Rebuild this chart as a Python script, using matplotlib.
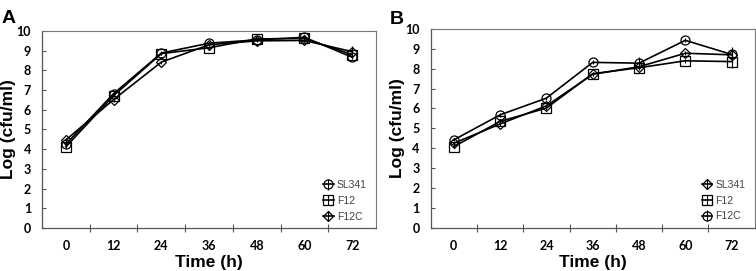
import matplotlib
matplotlib.use("Agg")
import matplotlib.pyplot as plt
import numpy as np

times = ["0", "12", "24", "36", "48", "60", "72"]

# Panel A
a_sl341 = [4.25, 6.82, 8.88, 9.38, 9.55, 9.68, 8.67]
a_f12 = [4.12, 6.72, 8.85, 9.15, 9.6, 9.62, 8.8]
a_f12c = [4.47, 6.52, 8.42, 9.3, 9.5, 9.52, 8.95]
a_err_sl341 = [0.08, 0.08, 0.1, 0.08, 0.06, 0.08, 0.1]
a_err_f12 = [0.08, 0.08, 0.08, 0.1, 0.06, 0.06, 0.12]
a_err_f12c = [0.08, 0.1, 0.08, 0.08, 0.08, 0.1, 0.28]

# Panel B
b_sl341 = [4.25, 5.22, 6.13, 7.72, 8.1, 8.78, 8.7]
b_f12 = [4.08, 5.35, 6.02, 7.75, 8.05, 8.4, 8.36]
b_f12c = [4.42, 5.68, 6.52, 8.32, 8.28, 9.43, 8.72]
b_err_sl341 = [0.08, 0.1, 0.1, 0.08, 0.1, 0.1, 0.25]
b_err_f12 = [0.08, 0.1, 0.1, 0.1, 0.12, 0.1, 0.3]
b_err_f12c = [0.08, 0.1, 0.08, 0.1, 0.3, 0.1, 0.38]

fig = plt.figure(figsize=(7.56, 2.71), dpi=100)
axA = fig.add_axes([0.0556, 0.1587, 0.4418, 0.7269])
axB = fig.add_axes([0.5697, 0.1598, 0.4286, 0.7332])

tick_font = dict(family="Lato", weight="bold", size=9)
x = np.arange(len(times))

def style(ax, series, letter, lx, ly, ylx):
    for label, vals, errs, marker in series:
        ax.errorbar(x, vals, yerr=errs, color="black", lw=1.2, marker=marker,
                    markersize=6.5 if marker != "D" else 5, markerfacecolor="none",
                    markeredgecolor="black", markeredgewidth=0.9,
                    elinewidth=0.8, capsize=0, label=label)
    ax.set_xlim(-0.5, len(times) - 0.5)
    ax.set_ylim(0, 10)
    ax.set_xticks(x)
    ax.set_xticklabels(times, fontdict=tick_font)
    ax.set_xticks(np.arange(0.5, len(times) - 0.5, 1), minor=True)
    ax.tick_params(axis="x", which="major", length=0, pad=9)
    ax.tick_params(axis="x", which="minor", length=6, direction="inout", width=0.8, color="#555555")
    ax.set_yticks(range(0, 11))
    ax.set_yticklabels([str(v) for v in range(0, 11)], fontdict=tick_font)
    ax.tick_params(axis="y", length=3, direction="in", width=0.8, color="#555555", pad=8)
    for s in ["top", "right"]:
        ax.spines[s].set_color("#777777")
        ax.spines[s].set_linewidth(0.8)
    for s in ["left", "bottom"]:
        ax.spines[s].set_color("#555555")
        ax.spines[s].set_linewidth(0.9)
    ax.set_xlabel("Time (h)", family="Liberation Sans", weight="bold", fontsize=12.5, labelpad=2)
    ax.set_ylabel("Log (cfu/ml)", family="Liberation Sans", weight="bold", fontsize=12.5,
                  va="center")
    ax.yaxis.set_label_coords(ylx, 0.5)
    leg = ax.legend(loc="lower right", frameon=False, prop=dict(family="Liberation Sans", size=7.5),
                    handlelength=1.0, handletextpad=0.3, labelspacing=0.55,
                    bbox_to_anchor=(1.0, -0.015))
    for t in leg.get_texts():
        t.set_color("#444444")
    ax.text(lx, ly, letter, transform=ax.transAxes, fontsize=14, weight="bold",
            family="Liberation Sans", ha="center", va="center")

style(axA, [("SL341", a_sl341, a_err_sl341, "o"),
            ("F12", a_f12, a_err_f12, "s"),
            ("F12C", a_f12c, a_err_f12c, "D")], "A", -0.099, 1.061, -0.100)
style(axB, [("SL341", b_sl341, b_err_sl341, "D"),
            ("F12", b_f12, b_err_f12, "s"),
            ("F12C", b_f12c, b_err_f12c, "o")], "B", -0.104, 1.048, -0.101)

fig.savefig("out.png", dpi=100)
